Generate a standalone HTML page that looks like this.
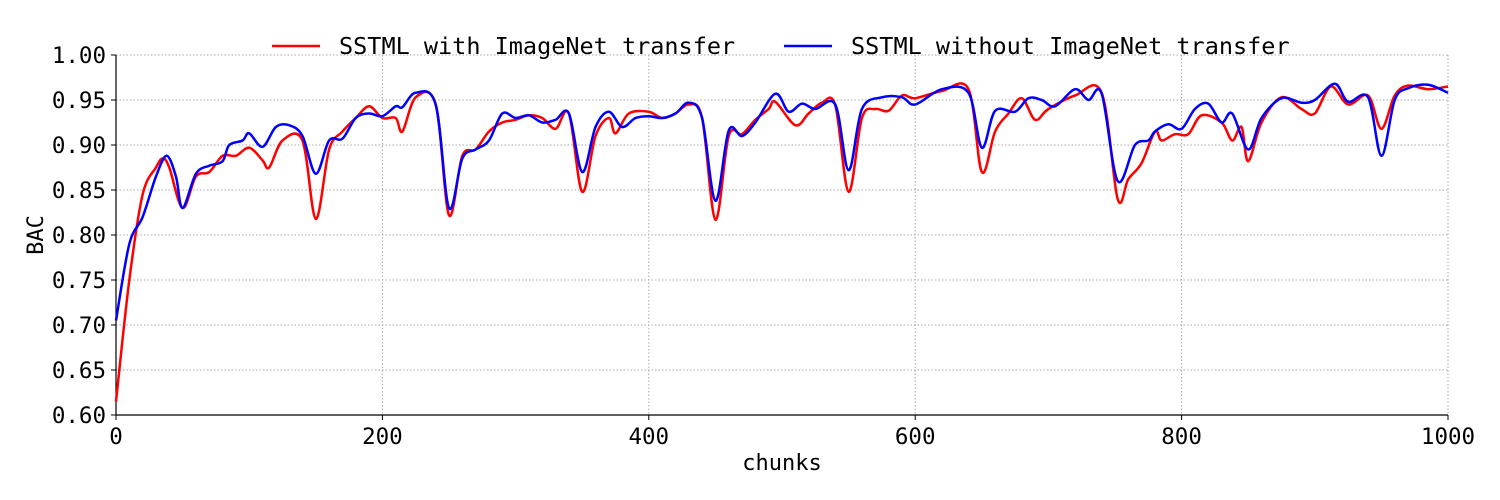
<!DOCTYPE html>
<html><head><meta charset="utf-8"><style>
body{margin:0;background:#fff;}
svg{display:block;font-family:"DejaVu Sans Mono","Liberation Mono",monospace;}
</style></head><body>
<svg id="chart" width="1500" height="500"></svg>
<script>
const ticksX=[0,200,400,600,800,1000];
const ticksY=[0.60,0.65,0.70,0.75,0.80,0.85,0.90,0.95,1.00];
const redX=[0,10,20,30,35,40,50,60,70,80,90,100,110,115,125,140,150,160,170,180,190,200,210,215,225,240,250,260,270,280,290,300,310,320,330,340,350,360,370,375,385,400,410,420,430,440,450,460,470,480,490,495,510,520,530,540,550,560,570,580,590,600,620,640,650,660,670,680,690,700,720,740,752,760,770,780,785,795,805,815,830,838,845,850,860,875,890,900,912,925,940,950,960,970,985,1000];
const redY=[0.615,0.75,0.845,0.875,0.885,0.875,0.83,0.865,0.87,0.888,0.888,0.897,0.883,0.875,0.905,0.905,0.818,0.895,0.915,0.93,0.943,0.93,0.93,0.915,0.953,0.945,0.822,0.888,0.895,0.915,0.925,0.928,0.933,0.93,0.918,0.935,0.848,0.91,0.93,0.913,0.935,0.937,0.93,0.935,0.945,0.93,0.817,0.91,0.912,0.928,0.94,0.948,0.922,0.935,0.947,0.944,0.848,0.93,0.94,0.938,0.955,0.952,0.96,0.962,0.87,0.915,0.935,0.952,0.928,0.94,0.955,0.958,0.84,0.862,0.88,0.915,0.905,0.912,0.912,0.933,0.925,0.905,0.92,0.882,0.925,0.953,0.94,0.935,0.965,0.945,0.955,0.918,0.955,0.966,0.962,0.965];
const blueX=[0,10,20,30,38,45,50,60,70,80,85,95,100,110,120,130,140,150,160,170,180,190,200,210,215,225,240,250,260,270,280,290,300,310,320,330,340,350,360,370,380,390,400,410,420,430,440,450,460,470,480,495,505,515,525,540,550,560,575,590,600,620,640,650,660,675,685,695,705,720,730,740,752,765,775,780,790,800,810,820,830,838,850,860,875,890,900,915,925,940,950,960,970,985,1000];
const blueY=[0.705,0.79,0.82,0.865,0.888,0.865,0.83,0.868,0.877,0.882,0.9,0.905,0.913,0.898,0.92,0.922,0.91,0.868,0.905,0.907,0.93,0.935,0.932,0.943,0.942,0.958,0.945,0.83,0.885,0.895,0.905,0.935,0.93,0.933,0.925,0.928,0.935,0.87,0.92,0.937,0.92,0.93,0.932,0.93,0.935,0.947,0.93,0.838,0.916,0.91,0.925,0.957,0.937,0.946,0.94,0.945,0.872,0.94,0.953,0.953,0.945,0.962,0.958,0.897,0.938,0.937,0.952,0.95,0.943,0.962,0.95,0.957,0.86,0.9,0.905,0.915,0.923,0.918,0.94,0.946,0.925,0.935,0.895,0.93,0.952,0.947,0.95,0.968,0.948,0.953,0.888,0.95,0.963,0.967,0.958];
const L=116,R=1448,T=55,B=415;
const sx=v=>L+(v-0)/(1000)*(R-L);
const sy=v=>B-(v-0.6)/0.4*(B-T);
const NS="http://www.w3.org/2000/svg";
const svg=document.getElementById('chart');
function mk(tag,attrs,parent){const e=document.createElementNS(NS,tag);for(const k in attrs)e.setAttribute(k,attrs[k]);(parent||svg).appendChild(e);return e;}
ticksX.forEach(t=>{const g=mk('line',{x1:sx(t),x2:sx(t),y1:T,y2:B,stroke:'#a8a8a8','stroke-width':1,'stroke-dasharray':'1.5,2'});

});
ticksY.forEach(t=>{const g=mk('line',{x1:L,x2:R,y1:sy(t),y2:sy(t),stroke:'#a8a8a8','stroke-width':1,'stroke-dasharray':'1.5,2'});

});
const ax=mk('line',{x1:L,x2:R,y1:B,y2:B,stroke:'#000','stroke-width':1.2});


const ay=mk('line',{x1:L,x2:L,y1:T,y2:B,stroke:'#000','stroke-width':1.2});


ticksX.forEach(t=>{mk('line',{x1:sx(t),x2:sx(t),y1:B,y2:B+5,stroke:'#000'});
const tx=mk('text',{x:sx(t),y:B+29,'text-anchor':'middle','font-size':22.5});tx.textContent=t;

});
ticksY.forEach(t=>{mk('line',{x1:L-5,x2:L,y1:sy(t),y2:sy(t),stroke:'#000'});
const tx=mk('text',{x:L-10,y:sy(t)+8,'text-anchor':'end','font-size':22.5});tx.textContent=t.toFixed(2);

});
const xt=mk('text',{x:(L+R)/2,y:470,'text-anchor':'middle','font-size':22});xt.textContent='chunks';


const yt=mk('text',{x:43,y:(T+B)/2,'text-anchor':'middle','font-size':22,transform:`rotate(-90 43 ${(T+B)/2})`});yt.textContent='BAC';


function path(xs,ys){const p=xs.map((x,i)=>[sx(x),sy(ys[i])]);let d=`M${p[0][0]},${p[0][1]}`;
for(let i=0;i<p.length-1;i++){const p0=p[Math.max(0,i-1)],p1=p[i],p2=p[i+1],p3=p[Math.min(p.length-1,i+2)];
const c1=[p1[0]+(p2[0]-p0[0])/6,p1[1]+(p2[1]-p0[1])/6],c2=[p2[0]-(p3[0]-p1[0])/6,p2[1]-(p3[1]-p1[1])/6];
d+=` C${c1[0]},${c1[1]} ${c2[0]},${c2[1]} ${p2[0]},${p2[1]}`;}return d;}
const r=mk('path',{d:path(redX,redY),fill:'none',stroke:'#ff0000','stroke-width':2.5});


const b=mk('path',{d:path(blueX,blueY),fill:'none',stroke:'#0000ff','stroke-width':2.5});


const lg=mk('g',{});


mk('line',{x1:272,x2:320,y1:46,y2:46,stroke:'#ff0000','stroke-width':2.5},lg);
const l1=mk('text',{x:339,y:54,'font-size':23.5},lg);l1.textContent='SSTML with ImageNet transfer';


mk('line',{x1:784,x2:832,y1:46,y2:46,stroke:'#0000ff','stroke-width':2.5},lg);
const l2=mk('text',{x:851,y:54,'font-size':23.5},lg);l2.textContent='SSTML without ImageNet transfer';


</script>
</body></html>
